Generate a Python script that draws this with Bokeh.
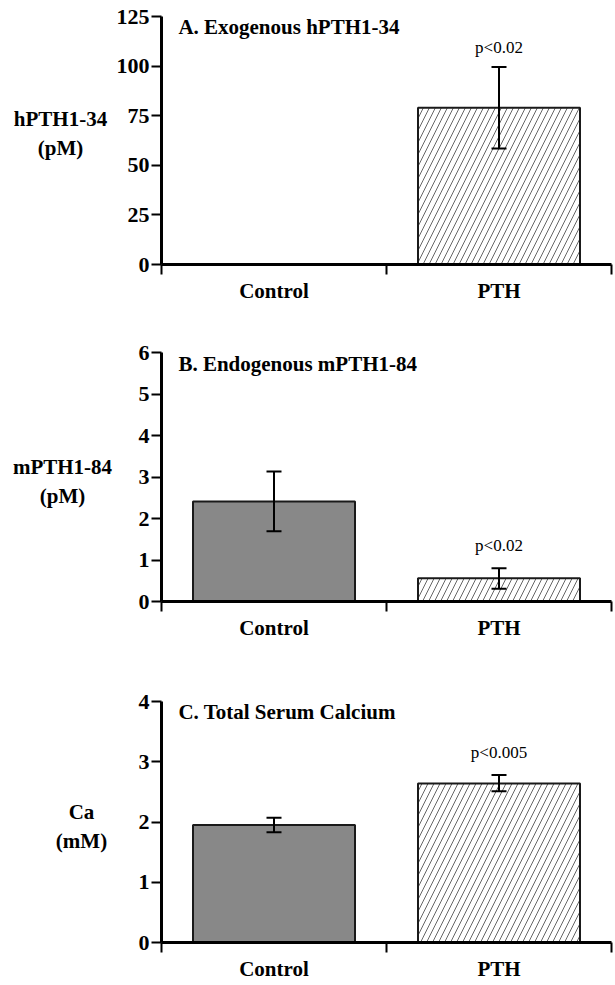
from bokeh.plotting import figure
from bokeh.layouts import column, row
from bokeh.models import (Range1d, FixedTicker, Label, Whisker, TeeHead,
                          ColumnDataSource)
from bokeh.core.properties import value
from bokeh.embed import file_html
from bokeh.resources import INLINE

# ---------------- data ----------------
categories = ["Control", "PTH"]

a_title = "A. Exogenous hPTH1-34"
a_ylabel = ["hPTH1-34", "(pM)"]
a_values = [0.0, 79.0]
a_lower = [None, 58.5]
a_upper = [None, 99.5]
a_yticks = [0, 25, 50, 75, 100, 125]
a_pvals = ["", "p<0.02"]

b_title = "B. Endogenous mPTH1-84"
b_ylabel = ["mPTH1-84", "(pM)"]
b_values = [2.41, 0.56]
b_lower = [1.69, 0.31]
b_upper = [3.13, 0.80]
b_yticks = [0, 1, 2, 3, 4, 5, 6]
b_pvals = ["", "p<0.02"]

c_title = "C. Total Serum Calcium"
c_ylabel = ["Ca", "(mM)"]
c_values = [1.95, 2.64]
c_lower = [1.83, 2.51]
c_upper = [2.07, 2.78]
c_yticks = [0, 1, 2, 3, 4]
c_pvals = ["", "p<0.005"]

# ---------------- styling ----------------
FONT = "Liberation Serif"
FILLS = ["#888888", "#ffffff"]
HATCHES = [" ", "/"]
LAB_W = 113          # width of the y-label strip
PLOT_W = 500         # width of the chart figure
BORDER_LEFT = 48     # room for the y tick labels


def make_panel(title, ylabel, values, lower, upper, yticks, pvals,
               height, border_top, border_bottom,
               title_y, p_y, ylabel_px, ylabel_y):
    ymax = yticks[-1]
    yr = Range1d(0, ymax)
    p = figure(width=PLOT_W, height=height, output_backend="svg",
               toolbar_location=None, x_range=Range1d(0, len(categories)),
               y_range=yr)
    p.min_border_left = BORDER_LEFT
    p.min_border_right = 2
    p.min_border_top = border_top
    p.min_border_bottom = border_bottom
    p.outline_line_color = None
    p.xgrid.visible = False
    p.ygrid.visible = False

    xs = [i + 0.5 for i in range(len(categories))]
    src = ColumnDataSource(dict(x=xs, top=values, fill=FILLS, hatch=HATCHES))
    p.vbar(x="x", top="top", width=0.72, bottom=0, source=src,
           fill_color="fill", line_color="#1a1a1a", line_width=2,
           hatch_pattern="hatch", hatch_color="#555555", hatch_scale=12,
           hatch_weight=0.9)

    ex, el, eu = [], [], []
    for x, lo, up in zip(xs, lower, upper):
        if lo is not None and up is not None:
            ex.append(x); el.append(lo); eu.append(up)
    esrc = ColumnDataSource(dict(x=ex, lower=el, upper=eu))
    w = Whisker(source=esrc, base="x", lower="lower", upper="upper",
                line_width=2, line_color="black", level="overlay",
                upper_head=TeeHead(size=15, line_width=2, line_color="black"),
                lower_head=TeeHead(size=15, line_width=2, line_color="black"))
    p.add_layout(w)

    # x axis: labels at centres, ticks at category boundaries
    xa = p.xaxis[0]
    xa.ticker = FixedTicker(ticks=xs, minor_ticks=list(range(len(categories) + 1)))
    xa.major_label_overrides = {x: c for x, c in zip(xs, categories)}
    xa.major_tick_out = 0
    xa.major_tick_in = 0
    xa.minor_tick_out = 10
    xa.minor_tick_in = 0
    xa.minor_tick_line_width = 2
    xa.minor_tick_line_color = "black"
    xa.axis_line_width = 3
    xa.axis_line_color = "black"
    xa.major_label_standoff = 4
    xa.major_label_text_font = FONT
    xa.major_label_text_font_style = "bold"
    xa.major_label_text_font_size = "21px"
    xa.major_label_text_color = "black"

    ya = p.yaxis[0]
    ya.ticker = FixedTicker(ticks=yticks, minor_ticks=[])
    ya.major_tick_out = 10
    ya.major_tick_in = 0
    ya.major_tick_line_width = 2
    ya.major_tick_line_color = "black"
    ya.axis_line_width = 3
    ya.axis_line_color = "black"
    ya.major_label_standoff = 2
    ya.major_label_text_font = FONT
    ya.major_label_text_font_style = "bold"
    ya.major_label_text_font_size = "22px"
    ya.major_label_text_color = "black"

    # panel title
    p.add_layout(Label(x=0.075, y=title_y, text=title, text_font=FONT,
                       text_font_style="bold", text_font_size="21px",
                       text_baseline="middle", text_align="left",
                       text_color="black"))
    # p-values
    for x, t in zip(xs, pvals):
        if t:
            p.add_layout(Label(x=x, y=p_y, text=t, text_font=FONT,
                               text_font_size="17px", text_baseline="middle",
                               text_align="center", text_color="black"))

    # y-label strip (horizontal two-line label left of the axis)
    lab = figure(width=LAB_W, height=height, output_backend="svg",
                 toolbar_location=None, x_range=Range1d(0, LAB_W),
                 y_range=yr)
    lab.min_border_left = 0
    lab.min_border_right = 0
    lab.min_border_top = border_top
    lab.min_border_bottom = border_bottom
    lab.outline_line_color = None
    lab.axis.visible = False
    lab.grid.visible = False
    n = len(ylabel)
    lab.text(x=[ylabel_px] * n, y=[ylabel_y] * n, text=ylabel,
             y_offset=[(k - (n - 1) / 2) * 29 for k in range(n)],
             text_font=value(FONT), text_font_style="bold",
             text_font_size="21px", text_align="center",
             text_baseline="middle", text_color="black")
    return row(lab, p, spacing=0)


pa = make_panel(a_title, a_ylabel, a_values, a_lower, a_upper, a_yticks,
                a_pvals, height=312, border_top=16, border_bottom=48,
                title_y=119.5, p_y=109.5, ylabel_px=60, ylabel_y=66)
pb = make_panel(b_title, b_ylabel, b_values, b_lower, b_upper, b_yticks,
                b_pvals, height=337, border_top=40, border_bottom=48,
                title_y=5.73, p_y=1.35, ylabel_px=62, ylabel_y=2.9)
pc = make_panel(c_title, c_ylabel, c_values, c_lower, c_upper, c_yticks,
                c_pvals, height=334, border_top=52, border_bottom=40,
                title_y=3.83, p_y=3.15, ylabel_px=81, ylabel_y=1.92)

layout = column(pa, pb, pc, spacing=0)
open("out.html", "w").write(file_html(layout, INLINE))
